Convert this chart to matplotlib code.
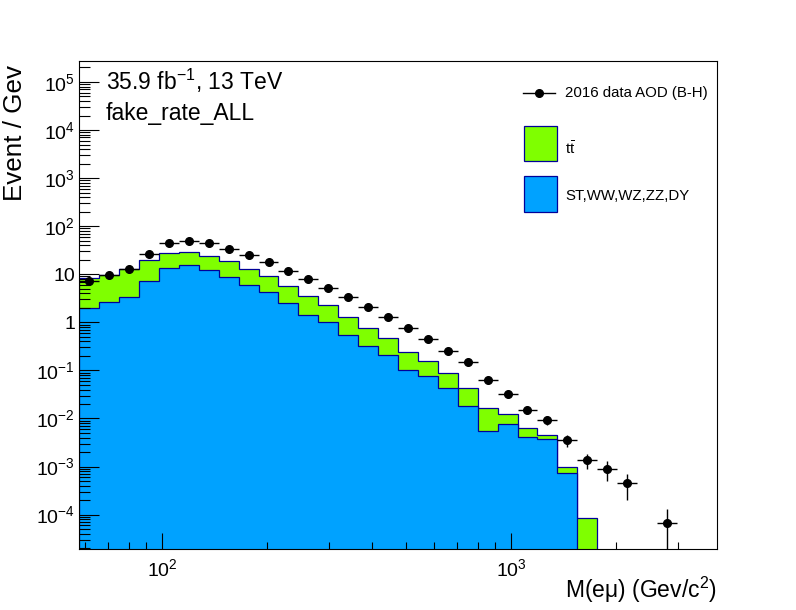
import numpy as np
import matplotlib
matplotlib.use('Agg')
import matplotlib.pyplot as plt
from matplotlib.lines import Line2D
from matplotlib.patches import Rectangle
from matplotlib.ticker import LogLocator, NullFormatter, FuncFormatter

plt.rcParams['font.family'] = ['Liberation Sans', 'DejaVu Sans']
plt.rcParams['mathtext.fontset'] = 'custom'
plt.rcParams['mathtext.rm'] = 'Liberation Sans'
plt.rcParams['mathtext.it'] = 'Liberation Sans:italic'
plt.rcParams['mathtext.bf'] = 'Liberation Sans:bold'

# 32 log bins in M(e mu), GeV
m_lo, m_hi, n_bins = 57.8, 3877.0, 32
edges = np.logspace(np.log10(m_lo), np.log10(m_hi), n_bins + 1)

# events / GeV
other = np.array([1.96, 2.61, 3.32, 7.14, 13.3, 15.4, 12.1, 8.65, 5.89, 4.21, 2.49, 1.40,
                  1.00, 0.537, 0.317, 0.206, 0.102, 0.0754, 0.0424, 0.0179, 0.0054, 0.00757,
                  0.00406, 0.00379, 0.000723, 0, 0, 0, 0, 0, 0, 0])
ttbar = np.array([6.28, 7.05, 9.38, 12.36, 14.0, 13.2, 11.5, 9.95, 6.81, 4.87, 3.13, 2.08,
                  1.26, 0.733, 0.434, 0.260, 0.140, 0.0816, 0.0445, 0.0245, 0.0109, 0.00463,
                  0.00218, 0.00068, 0.000241, 8.4e-5, 0, 0, 0, 0, 0, 0])
data = np.array([7.24, 9.7, 12.9, 26.4, 44.7, 49.2, 44.7, 33.6, 25.2, 18.0, 11.7, 7.85,
                 5.18, 3.37, 2.08, 1.29, 0.762, 0.450, 0.253, 0.150, 0.0631, 0.0323,
                 0.0150, 0.00929, 0.00356, 0.00137, 0.000889, 0.000455, 0, 6.7e-5, 0, 0])
data_err = np.array([0.25, 0.3, 0.35, 0.5, 0.7, 0.7, 0.65, 0.55, 0.45, 0.4, 0.3, 0.25,
                     0.2, 0.15, 0.11, 0.08, 0.05, 0.035, 0.022, 0.014, 0.009, 0.005,
                     0.0026, 0.0019, 0.00097, 0.00048, 0.0004, 0.00025, 0, 6.3e-5, 0, 0])

labels = ['2016 data AOD (B-H)', r'$\mathrm{t\bar{t}}$', 'ST,WW,WZ,ZZ,DY']

green = '#7fff00'
blue = '#00a2ff'
navy = '#000099'

W, H = 796, 610
fig = plt.figure(figsize=(W / 100, H / 100), dpi=100)
ax = fig.add_axes([79.3 / W, 60.7 / H, 637.4 / W, 488.3 / H])
ax.set_xscale('log')
ax.set_yscale('log')

# stack: total first, then the bottom component over it
total = other + ttbar
ax.stairs(total, edges, baseline=1e-9, fill=True, facecolor=green, edgecolor=navy, lw=0.9)
ax.stairs(other, edges, baseline=1e-9, fill=True, facecolor=blue, edgecolor=navy, lw=0.9)

centers = np.sqrt(edges[:-1] * edges[1:])
m = data > 0
xerr = [centers[m] - edges[:-1][m], edges[1:][m] - centers[m]]
ax.errorbar(centers[m], data[m], xerr=xerr, yerr=data_err[m], fmt='o', color='k',
            ms=5.5, lw=1, capsize=0)

ax.set_xlim(m_lo, m_hi)
ax.set_ylim(1.9e-5, 2.73e5)

ax.set_yticks(10.0 ** np.arange(-4, 6))
ax.yaxis.set_minor_locator(LogLocator(base=10, subs=np.arange(2, 10), numticks=100))
ax.yaxis.set_minor_formatter(NullFormatter())

def yfmt(v, pos):
    n = int(round(np.log10(v)))
    if n == 0:
        return '1'
    if n == 1:
        return '10'
    return r'$10^{%d}$' % n

ax.yaxis.set_major_formatter(FuncFormatter(yfmt))
ax.set_xticks([100, 1000])
ax.xaxis.set_major_formatter(FuncFormatter(lambda v, p: r'$10^{%d}$' % int(round(np.log10(v)))))
ax.xaxis.set_minor_locator(LogLocator(base=10, subs=np.arange(2, 10), numticks=100))
ax.xaxis.set_minor_formatter(NullFormatter())

ax.tick_params(which='both', direction='in', top=False, right=False, width=0.8, labelsize=14)
ax.tick_params(axis='y', which='major', length=14.4, pad=3)
ax.tick_params(axis='y', which='minor', length=7.7)
ax.tick_params(axis='x', which='major', length=11.2, pad=6.5)
ax.tick_params(axis='x', which='minor', length=5.3)
for s in ax.spines.values():
    s.set_linewidth(0.8)

ax.set_xlabel('M(eμ) (Gev/c$^{2}$)', fontsize=16.5, loc='right')
ax.xaxis.set_label_coords(1.0, -0.053)
ax.set_ylabel('Event / Gev', fontsize=18.7, loc='top')
ax.yaxis.set_label_coords(-0.082, 0.992)

ax.text(0.042, 0.9406, '35.9 fb$^{-1}$, 13 TeV', transform=ax.transAxes,
        fontsize=16.5, va='baseline', ha='left')
ax.text(0.042, 0.879, 'fake_rate_ALL', transform=ax.transAxes,
        fontsize=16.5, va='baseline', ha='left')

# legend, ROOT style (no frame, big boxes)
def fx(x):
    return x / W

def fy(y):
    return 1 - y / H

fig.add_artist(Line2D([fx(523.3), fx(555)], [fy(92.7), fy(92.7)], color='k', lw=1))
fig.add_artist(Line2D([fx(539)], [fy(92.7)], color='k', marker='o', ms=5.5, lw=0))
fig.add_artist(Rectangle((fx(524.3), fy(161)), (557 - 524.3) / W, (161 - 125.7) / H,
                         facecolor=green, edgecolor=navy, lw=0.9))
fig.add_artist(Rectangle((fx(524.3), fy(211.7)), (557 - 524.3) / W, (211.7 - 176.3) / H,
                         facecolor=blue, edgecolor=navy, lw=0.9))
for lab, yb in zip(labels, [96.7, 154.5, 200]):
    fig.text(fx(565), fy(yb), lab, fontsize=10.8, va='baseline', ha='left')

fig.savefig('out.png', dpi=100)
